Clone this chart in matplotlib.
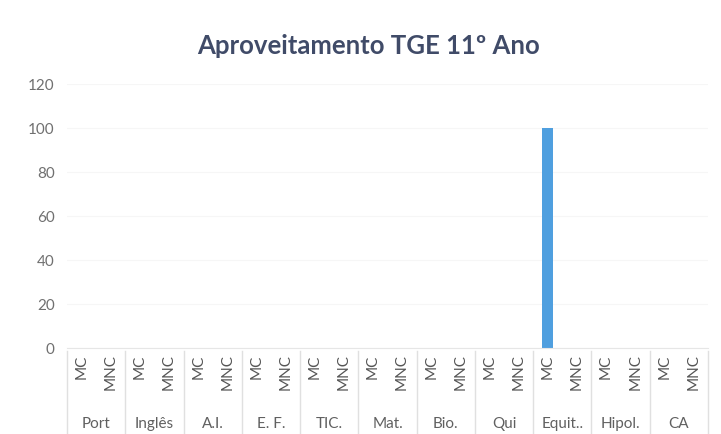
import matplotlib.pyplot as plt
import numpy as np
from matplotlib.transforms import blended_transform_factory

# data
subjects = ['Port', 'Inglês', 'A.I.', 'E. F.', 'TIC.', 'Mat.', 'Bio.', 'Qui', 'Equit..', 'Hipol.', 'CA']
sub_labels = ['MC', 'MNC']
mc_values = [0, 0, 0, 0, 0, 0, 0, 0, 100, 0, 0]
mnc_values = [0, 0, 0, 0, 0, 0, 0, 0, 0, 0, 0]

plt.rcParams['font.family'] = ['Lato', 'DejaVu Sans']

fig = plt.figure(figsize=(7.21, 4.35), dpi=100)
ax = fig.add_axes([0.093, 0.198, 0.889, 0.607])

# interleave MC / MNC values
values = []
labels = []
for a, b in zip(mc_values, mnc_values):
    values += [a, b]
    labels += sub_labels
x = np.arange(len(values))

ax.bar(x, values, width=0.37, color='#4F9FDF')

ax.set_xlim(-0.5, len(values) - 0.5)
ax.set_ylim(0, 120)
ax.set_yticks(np.arange(0, 121, 20))
ax.yaxis.grid(True, color='#f6f6f6', lw=0.8)
ax.set_axisbelow(True)
for s in ['top', 'right', 'left']:
    ax.spines[s].set_visible(False)
ax.spines['bottom'].set_color('#e6e6e6')

ax.set_xticks(x)
ax.set_xticklabels(labels, rotation=90, va='top', fontsize=11, color='#555555')
ax.tick_params(axis='x', length=0, pad=4)
ax.tick_params(axis='y', length=0, pad=9, labelsize=11, labelcolor='#707070')

# group labels and separators under the axis
trans = blended_transform_factory(ax.transData, ax.transAxes)
for i, name in enumerate(subjects):
    ax.text(2 * i + 0.5, -0.283, name, transform=trans, ha='center', va='center',
            fontsize=11, color='#606060')
for i in range(len(subjects) + 1):
    ax.plot([2 * i - 0.5, 2 * i - 0.5], [-0.01, -0.33], transform=trans,
            color='#e0e0e0', lw=1, clip_on=False)

fig.text(0.511, 0.895, 'Aproveitamento TGE 11º Ano', ha='center', va='center',
         fontsize=18.5, fontweight='bold', color='#404B68')

fig.savefig('out.png', dpi=100)
